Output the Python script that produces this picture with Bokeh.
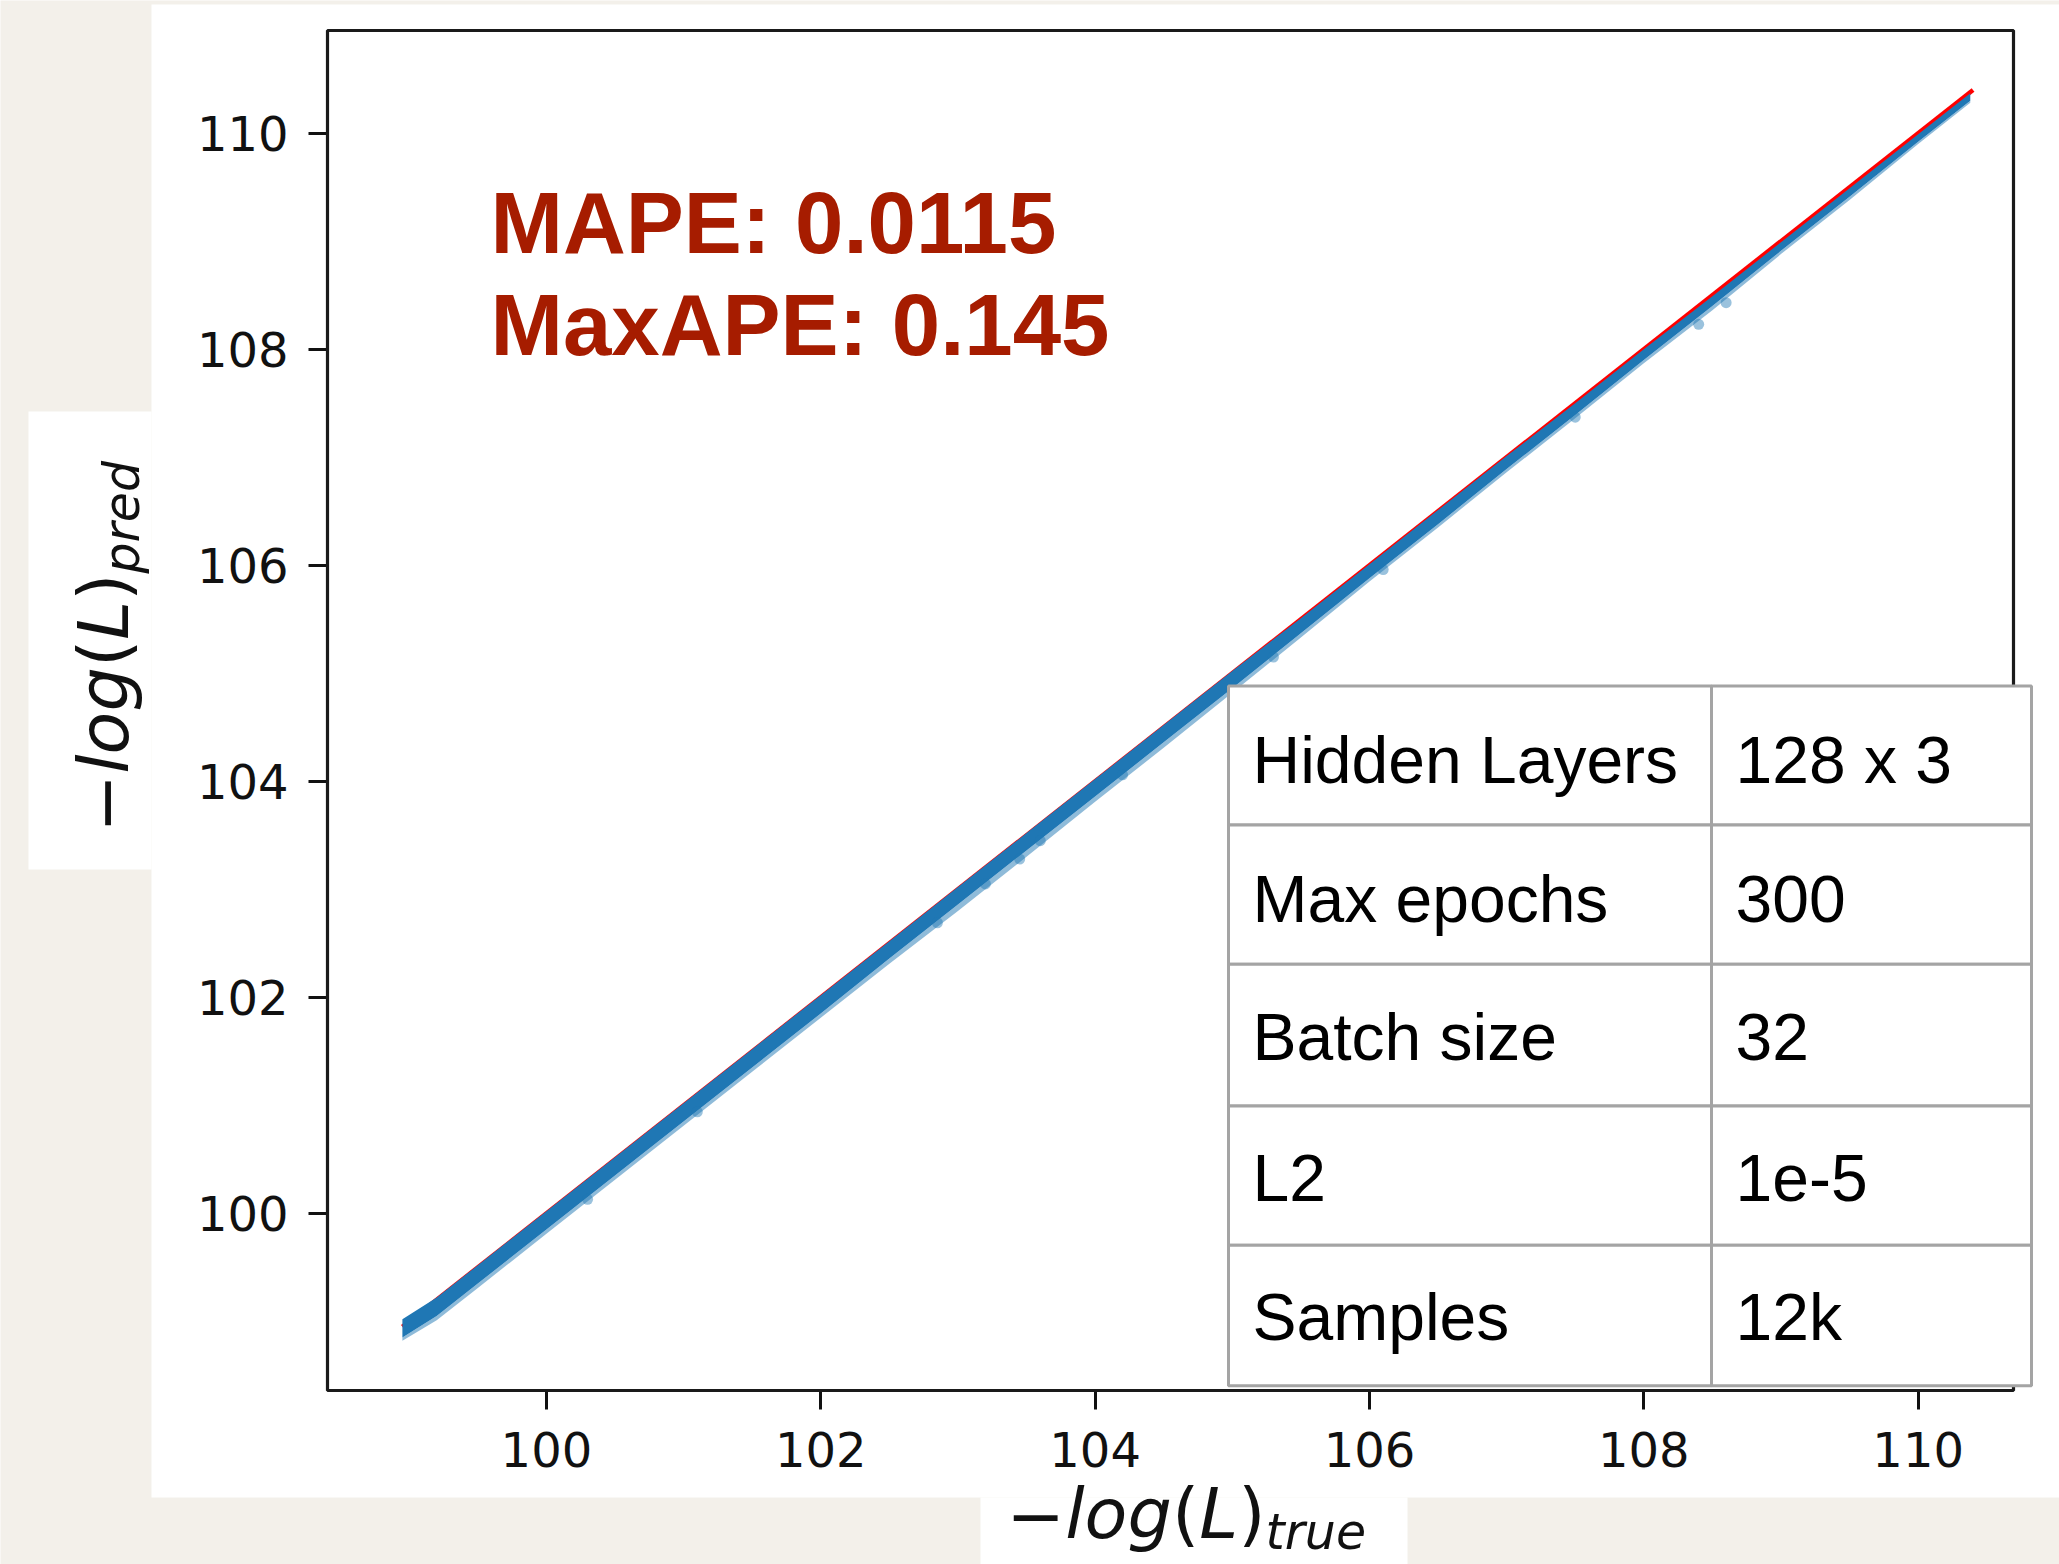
import numpy as np
from bokeh.plotting import figure
from bokeh.models import Range1d, FixedTicker, BoxAnnotation, Label
from bokeh.embed import file_html
from bokeh.resources import INLINE

# ---------------- data ----------------
x_ticks = [100, 102, 104, 106, 108, 110]
y_ticks = [100, 102, 104, 106, 108, 110]

# dense cloud of (true, predicted) samples: lower / upper envelope along the diagonal
band_true = [98.95, 99.2, 99.5, 100.0, 100.5, 101.0, 101.5, 102.0, 102.5, 103.0, 103.5,
             104.0, 104.5, 105.0, 105.5, 106.0, 106.5, 107.0, 107.5, 108.0, 108.5,
             109.0, 109.5, 110.0, 110.38]
band_upper = [99.02, 99.22, 99.52, 100.02, 100.52, 101.02, 101.52, 102.02, 102.52, 103.02, 103.52,
              104.02, 104.52, 105.02, 105.51, 106.01, 106.51, 107.01, 107.5, 108.0, 108.49,
              108.99, 109.49, 109.99, 110.37]
band_lower = [98.85, 99.05, 99.35, 99.85, 100.35, 100.85, 101.35, 101.85, 102.36, 102.86, 103.36,
              103.86, 104.36, 104.86, 105.37, 105.88, 106.38, 106.89, 107.39, 107.90, 108.40,
              108.91, 109.41, 109.92, 110.30]
# sparser fringe just under the cloud
fringe_lower = [98.82, 99.01, 99.31, 99.81, 100.31, 100.81, 101.31, 101.81, 102.31, 102.80, 103.30,
                103.81, 104.31, 104.82, 105.33, 105.85, 106.35, 106.86, 107.36, 107.87, 108.36,
                108.88, 109.38, 109.90, 110.28]

# scattered samples that fall away from the main cloud
outlier_true = [100.3, 101.1, 102.85, 103.2, 103.45, 103.6, 104.2, 105.3, 106.1, 107.5, 108.4, 108.6]
outlier_pred = [100.13, 100.94, 102.69, 103.05, 103.28, 103.45, 104.06, 105.15, 105.96, 107.37, 108.23, 108.43]

# ideal prediction line  y = x
ideal_x = [98.95, 110.40]
ideal_y = [98.95, 110.40]

metric_lines = ["MAPE: 0.0115", "MaxAPE: 0.145"]

table_keys = ["Hidden Layers", "Max epochs", "Batch size", "L2", "Samples"]
table_vals = ["128 x 3", "300", "32", "1e-5", "12k"]

# ---------------- layout ----------------
W, H = 2059, 1564
BOX_L, BOX_R, BOX_T, BOX_B = 327, 2013, 30, 1390      # axes box on the canvas (px)
X_BOX = (98.404, 110.695)                             # data limits of the axes box
Y_BOX = (98.36, 110.95)

SX = (X_BOX[1] - X_BOX[0]) / (BOX_R - BOX_L)
SY = (Y_BOX[1] - Y_BOX[0]) / (BOX_B - BOX_T)
X_FULL = (X_BOX[0] - BOX_L * SX, X_BOX[1] + (W - BOX_R) * SX)
Y_FULL = (Y_BOX[0] - (H - BOX_B) * SY, Y_BOX[1] + BOX_T * SY)

PAPER = "#f3f0ea"
BLUE = "#1f77b4"
BERRY = "#a61c00"
CELL_GREY = "#a4a4a4"
INK = "#111111"


def dx(px):
    """canvas pixel column -> x data value"""
    return X_FULL[0] + px * SX


def dy(py):
    """canvas pixel row -> y data value"""
    return Y_FULL[1] - py * SY


p = figure(width=W, height=H, output_backend="svg", toolbar_location=None, title=None,
           x_range=Range1d(*X_FULL), y_range=Range1d(*Y_FULL),
           min_border=0, border_fill_color=PAPER, background_fill_color=PAPER,
           outline_line_color=None)
p.grid.visible = False

# white slide panels behind the chart
for l, r, t, b in [(151, W, 4, 1497), (28, 151, 411, 869), (980, 1407, 1497, H)]:
    p.add_layout(BoxAnnotation(left=dx(l), right=dx(r), top=dy(t), bottom=dy(b),
                               fill_color="white", fill_alpha=1.0, line_color=None,
                               level="underlay"))

# axes pinned to the edges of the axes box
p.xaxis.fixed_location = Y_BOX[0]
p.yaxis.fixed_location = X_BOX[0]
for ax, ticks in [(p.xaxis[0], x_ticks), (p.yaxis[0], y_ticks)]:
    ax.ticker = FixedTicker(ticks=ticks)
    ax.axis_line_color = None
    ax.major_tick_out = 19
    ax.major_tick_in = 0
    ax.major_tick_line_width = 3
    ax.major_tick_line_color = INK
    ax.minor_tick_line_color = None
    ax.major_label_text_font = "DejaVu Sans"
    ax.major_label_text_font_size = "48px"
    ax.major_label_text_color = INK
p.xaxis.major_label_standoff = 22
p.yaxis.major_label_standoff = 20

# ideal line, then the sample cloud on top of it
p.line(ideal_x, ideal_y, line_color="red", line_width=4.5)
p.varea(x=band_true, y1=fringe_lower, y2=band_lower, fill_color=BLUE, fill_alpha=0.5)
p.varea(x=band_true, y1=band_lower, y2=band_upper, fill_color=BLUE, fill_alpha=1.0)
p.scatter(outlier_true, outlier_pred, size=11, marker="circle", fill_color=BLUE,
          line_color=None, fill_alpha=0.45)

# spines
p.add_layout(BoxAnnotation(left=X_BOX[0], right=X_BOX[1], bottom=Y_BOX[0], top=Y_BOX[1],
                           fill_alpha=0.0, line_color="#1a1a1a", line_alpha=1.0,
                           line_width=3.2))

# text helpers: labels are centred on y, so shift from the wanted baseline
MID = 0.347


def text_label(x_px, base_px, txt, size, font="Liberation Sans", style="normal",
               color="black", angle=0.0):
    if angle == 0.0:
        x, y = dx(x_px), dy(base_px - MID * size)
    else:
        x, y = dx(x_px - MID * size), dy(base_px)
    return Label(x=x, y=y, text=txt, text_font=font, text_font_style=style,
                 text_font_size=f"{size}px", text_color=color, angle=angle,
                 text_align="left", text_baseline="middle")


# metrics
for i, txt in enumerate(metric_lines):
    p.add_layout(text_label(490, 252 + i * 102.5, txt, 87, style="bold", color=BERRY))

# hyper-parameter table
row_edges = [685.5, 824.6, 963.8, 1105.6, 1244.8, 1385.3]
col_edges = [1228, 1711, 2031]
for r in range(len(table_keys)):
    for c in range(2):
        p.add_layout(BoxAnnotation(left=dx(col_edges[c]), right=dx(col_edges[c + 1]),
                                   top=dy(row_edges[r]), bottom=dy(row_edges[r + 1]),
                                   fill_color="white", fill_alpha=1.0,
                                   line_color=CELL_GREY, line_alpha=1.0, line_width=3))
baselines = [782.6, 921.8, 1059.7, 1200.2, 1339.4]
for r, (k, v) in enumerate(zip(table_keys, table_vals)):
    for c, txt in enumerate([k, v]):
        p.add_layout(text_label(col_edges[c] + 24, baselines[r], txt, 66))

# axis titles:  -log(L)_true  and  -log(L)_pred
ADV = {"\u2212": 0.838, "l": 0.278, "o": 0.612, "g": 0.635, "(": 0.390, ")": 0.390,
       "L": 0.557, "t": 0.392, "r": 0.411, "u": 0.634, "e": 0.615, "p": 0.635, "d": 0.635}
MAIN, SUB = 70, 49


def pieces(subscript):
    return [("\u2212", "normal", MAIN, 0), ("log", "italic", MAIN, 0),
            ("(", "normal", MAIN, 0), ("L", "italic", MAIN, 0),
            (")", "normal", MAIN, 0), (subscript, "italic", SUB, 11)]


def width_of(txt, size):
    return sum(ADV[ch] for ch in txt) * size


# horizontal title, laid out left to right
pos = 1006
for txt, style, size, shift in pieces("true"):
    p.add_layout(text_label(pos, 1538 + shift, txt, size, font="DejaVu Sans",
                            style=style, color=INK))
    pos += width_of(txt, size)

# vertical title, laid out bottom to top (baseline is a canvas column)
pos = 832
for txt, style, size, shift in pieces("pred"):
    p.add_layout(text_label(128 + shift, pos, txt, size, font="DejaVu Sans",
                            style=style, color=INK, angle=np.pi / 2))
    pos -= width_of(txt, size)

open("out.html", "w").write(file_html(p, INLINE))
